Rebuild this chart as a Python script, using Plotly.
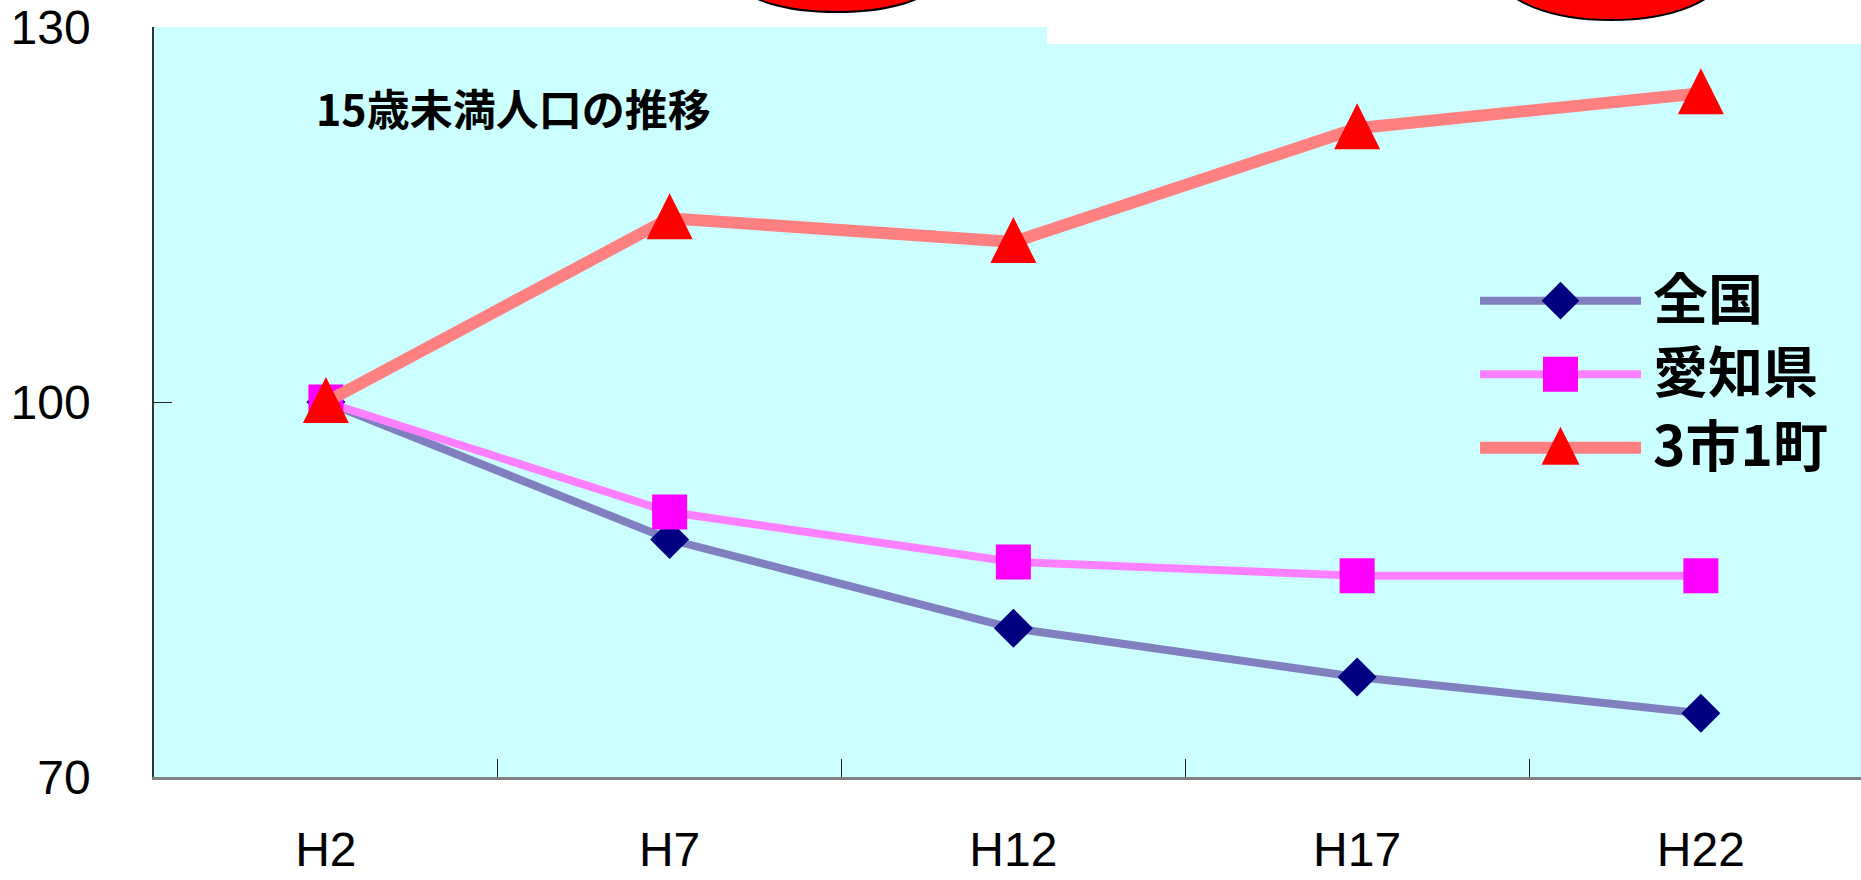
import plotly.graph_objects as go

# ---- data ----
categories = ["H2", "H7", "H12", "H17", "H22"]
zenkoku = [100, 89.0, 81.9, 78.0, 75.1]
aichi = [100, 91.2, 87.2, 86.1, 86.1]
sanshi = [100, 114.7, 112.8, 121.9, 124.7]
series_names = ["全国", "愛知県", "3市1町"]
y_ticks = [70, 100, 130]
title_text = "15歳未満人口の推移"

# ---- geometry helpers ----
W, H = 1861, 880
ML, MT, MB = 154, 27, 103
PW, PH = W - ML, H - MT - MB
Y0, Y1 = 70, 130
PX_PER_UNIT = PH / (Y1 - Y0)


def px2x(px):
    return (px - ML) / PW


def py2y(py):
    return (H - MB - py) / PH


line_colors = ["#8080C0", "#FF80FF", "#FF8080"]
line_widths = [8, 8, 12]
marker_colors = ["#000080", "#FF00FF", "#FF0000"]
marker_symbols = ["diamond", "square", "arrow-up"]
marker_sizes = [30, 35, 46]
legend_marker_sizes = [29, 35, 38]

TRI_SHIFT = 25 / PX_PER_UNIT  # lift triangle so it is centred on its point

fig = go.Figure()
data_series = [zenkoku, aichi, sanshi]

for i, (name, vals) in enumerate(zip(series_names, data_series)):
    if marker_symbols[i] == "arrow-up":
        fig.add_trace(go.Scatter(x=categories, y=vals, mode="lines", name=name,
                                 line=dict(color=line_colors[i], width=line_widths[i]),
                                 showlegend=False, hoverinfo="skip"))
        fig.add_trace(go.Scatter(x=categories, y=vals, mode="markers", name=name,
                                 yaxis="y2",
                                 marker=dict(symbol="arrow-up", size=marker_sizes[i],
                                             color=marker_colors[i], line=dict(width=0)),
                                 showlegend=False))
    else:
        fig.add_trace(go.Scatter(x=categories, y=vals, mode="lines+markers", name=name,
                                 line=dict(color=line_colors[i], width=line_widths[i]),
                                 marker=dict(symbol=marker_symbols[i], size=marker_sizes[i],
                                             color=marker_colors[i], line=dict(width=0)),
                                 showlegend=False))

# ---- custom legend (drawn on an auxiliary axis pair) ----
LEG_ROW_PX = 73.5
LEG_TRI_SHIFT = 21 / LEG_ROW_PX
for i, name in enumerate(series_names):
    fig.add_trace(go.Scatter(x=[0, 1], y=[i, i], mode="lines", xaxis="x2", yaxis="y3",
                             line=dict(color=line_colors[i], width=line_widths[i]),
                             showlegend=False, hoverinfo="skip"))
    fig.add_trace(go.Scatter(x=[0.5], y=[i], mode="markers", xaxis="x2",
                             yaxis="y4" if marker_symbols[i] == "arrow-up" else "y3",
                             marker=dict(symbol=marker_symbols[i], size=legend_marker_sizes[i],
                                         color=marker_colors[i], line=dict(width=0)),
                             showlegend=False, hoverinfo="skip"))
    fig.add_annotation(x=1, y=i, xref="x2", yref="y3", xanchor="left", yanchor="middle",
                       xshift=10, yshift=6, showarrow=False,
                       text="<b>" + name + "</b>",
                       font=dict(family="Noto Sans CJK JP", size=55, color="black"))

leg_top_px = 300.7 - LEG_ROW_PX / 2
leg_bot_px = leg_top_px + 3 * LEG_ROW_PX

# ---- title ----
fig.add_annotation(x=px2x(513), y=py2y(107), xref="paper", yref="paper",
                   xanchor="center", yanchor="middle", showarrow=False,
                   text="<b>" + title_text + "</b>",
                   font=dict(family="Noto Sans CJK JP", size=43, color="black"))

# ---- decorative overlays from the original slide ----
fig.add_shape(type="rect", xref="paper", yref="paper",
              x0=px2x(1047), x1=px2x(1870), y0=py2y(44), y1=py2y(-5),
              fillcolor="white", line=dict(width=0), layer="above")
for cx, cy, rx, ry in [(837, -18, 96, 30), (1611, -25, 111, 45)]:
    fig.add_shape(type="circle", xref="paper", yref="paper",
                  x0=px2x(cx - rx), x1=px2x(cx + rx), y0=py2y(cy + ry), y1=py2y(cy - ry),
                  fillcolor="#FF0000", line=dict(color="black", width=2), layer="above")

tick_font = dict(family="Liberation Sans, Arial, sans-serif", size=48, color="black")

x_right = (W - ML) / ((px2x(1700) - px2x(325)) * PW / 4) - 0.5

fig.update_layout(
    template="none",
    width=W, height=H,
    margin=dict(l=ML, r=0, t=MT, b=MB, pad=0),
    paper_bgcolor="white", plot_bgcolor="#CCFFFF",
    showlegend=False,
    xaxis=dict(type="category", range=[-0.5, x_right], automargin=False,
               tickson="boundaries", ticks="inside", ticklen=18, tickwidth=1.3, tickcolor="#222",
               showline=True, linecolor="#808080", linewidth=2.5, mirror=False,
               showgrid=False, zeroline=False, tickfont=tick_font, ticklabelstandoff=29,
               ticklabeloverflow="allow", fixedrange=True),
    yaxis=dict(range=[Y0, Y1], tickvals=y_ticks, ticks="inside", ticklen=18, tickwidth=1.3,
               tickcolor="#222", showline=True, linecolor="#333", linewidth=1.5, mirror=False,
               showgrid=False, zeroline=False, tickfont=tick_font, ticklabelstandoff=52,
               ticklabeloverflow="allow", automargin=False, fixedrange=True),
    yaxis2=dict(range=[Y0 - TRI_SHIFT, Y1 - TRI_SHIFT], overlaying="y", anchor="x",
                visible=False, automargin=False, fixedrange=True),
    xaxis2=dict(domain=[px2x(1480), px2x(1641)], range=[0, 1], anchor="y3",
                visible=False, automargin=False, fixedrange=True),
    yaxis3=dict(domain=[py2y(leg_bot_px), py2y(leg_top_px)], range=[2.5, -0.5], anchor="x2",
                visible=False, automargin=False, fixedrange=True),
    yaxis4=dict(range=[2.5 + LEG_TRI_SHIFT, -0.5 + LEG_TRI_SHIFT], overlaying="y3", anchor="x2",
                visible=False, automargin=False, fixedrange=True),
)

fig.write_html("out.html", config={"displayModeBar": False},
               post_script="document.body.style.margin='0';document.body.style.overflow='hidden';")
